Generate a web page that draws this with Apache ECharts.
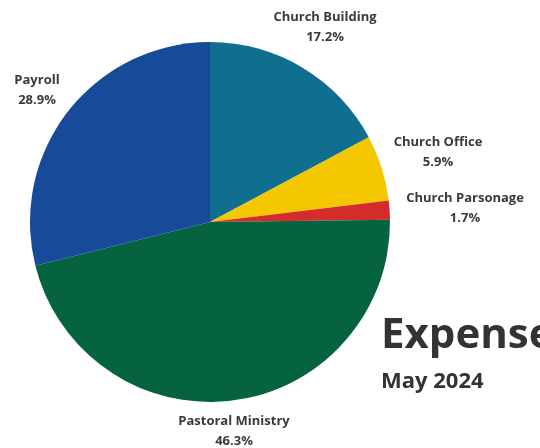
<!DOCTYPE html>
<html>
<head>
<meta charset="utf-8">
<script src="https://cdn.jsdelivr.net/npm/echarts@6/dist/echarts.min.js"></script>
<style>
html,body{margin:0;padding:0;background:#ffffff;}
#chart{width:540px;height:448px;}
</style>
</head>
<body>
<div id="chart"></div>
<script>
const categories = ['Church Building', 'Church Office', 'Church Parsonage', 'Pastoral Ministry', 'Payroll'];
const percentages = [17.2, 5.9, 1.7, 46.3, 28.9];
const sliceColors = ['#106e8e', '#f4c800', '#d42b2b', '#05643e', '#174b9a'];
const titleText = 'Expense';
const subtitleText = 'May 2024';

// label anchor points (pixel layout, not data)
const labelAnchors = [[325, 27], [438, 152], [465, 208], [234, 431], [37, 90]];

const chart = echarts.init(document.getElementById('chart'));
chart.setOption({
  backgroundColor: '#ffffff',
  animation: false,
  title: {
    text: titleText,
    subtext: subtitleText,
    left: 376,
    top: 310,
    itemGap: 14,
    textStyle: { fontFamily: 'Open Sans', fontWeight: 'bold', fontSize: 42, color: '#333333' },
    subtextStyle: { fontFamily: 'Open Sans', fontWeight: 'bold', fontSize: 22, color: '#333333' }
  },
  series: [{
    type: 'pie',
    silent: true,
    center: [210, 222],
    radius: 180,
    startAngle: 90,
    clockwise: true,
    data: categories.map((name, i) => ({
      name: name,
      value: percentages[i],
      itemStyle: { color: sliceColors[i] }
    })),
    label: {
      show: true,
      position: 'outside',
      alignTo: 'none',
      overflow: 'none',
      formatter: '{b}\n{c}%',
      fontFamily: 'Open Sans',
      fontWeight: 'bold',
      fontSize: 13,
      lineHeight: 20,
      color: '#3a3a3a',
      align: 'center'
    },
    labelLine: { show: false },
    labelLayout: function (params) {
      const p = labelAnchors[params.dataIndex];
      return { x: p[0], y: p[1], align: 'center', verticalAlign: 'middle', width: 200 };
    }
  }]
});
</script>
</body>
</html>
